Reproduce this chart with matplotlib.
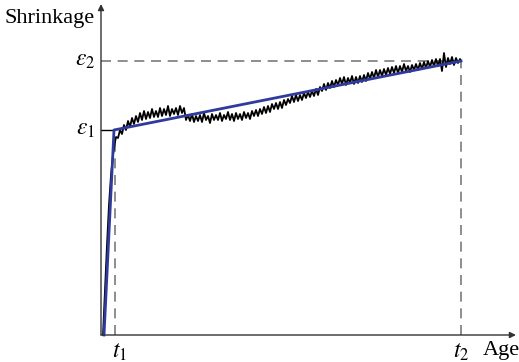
import matplotlib
matplotlib.use("Agg")
import matplotlib.pyplot as plt

plt.rcParams['font.family'] = ['Liberation Serif', 'DejaVu Serif']
plt.rcParams['mathtext.fontset'] = 'stix'

# characteristic points (age, shrinkage)
t1 = 14
t2 = 360
eps1 = 205
eps2 = 274

# bilinear fit
fit_age = [3, 13, 360]
fit_shr = [0, 205, 274]

# measured curve, early steep part
early_age = [2, 4, 6, 8, 10, 12, 14, 15]
early_shr = [0, 45, 90, 130, 160, 180, 193, 198]

meas_age = [17, 19, 21, 23, 25, 27, 29, 31, 33, 35,
            37, 39, 41, 43, 45, 47, 49, 51, 53, 55,
            57, 59, 61, 63, 65, 67, 69, 71, 73, 75,
            77, 79, 81, 83, 85, 87, 89, 91, 93, 95,
            97, 99, 101, 103, 105, 107, 109, 111, 113, 115,
            117, 119, 121, 123, 125, 127, 129, 131, 133, 135,
            137, 139, 141, 143, 145, 147, 149, 151, 153, 155,
            157, 159, 161, 163, 165, 167, 169, 171, 173, 175,
            177, 179, 181, 183, 185, 187, 189, 191, 193, 195,
            197, 199, 201, 203, 205, 207, 209, 211, 213, 215,
            217, 219, 221, 223, 225, 227, 229, 231, 233, 235,
            237, 239, 241, 243, 245, 247, 249, 251, 253, 255,
            257, 259, 261, 263, 265, 267, 269, 271, 273, 275,
            277, 279, 281, 283, 285, 287, 289, 291, 293, 295,
            297, 299, 301, 303, 305, 307, 309, 311, 313, 315,
            317, 319, 321, 323, 325, 327, 329, 331, 333, 335,
            337, 339, 341, 343, 345, 347, 349, 351, 353, 355,
            357, 359, 360]
meas_shr = [197, 205, 201, 210, 205, 214, 208, 217, 211, 219,
            213, 222, 215, 224, 216, 223, 217, 226, 218, 224,
            218, 227, 219, 226, 220, 229, 219, 226, 221, 227,
            220, 229, 222, 227, 215, 220, 214, 221, 213, 219,
            214, 220, 213, 222, 215, 219, 212, 221, 215, 220,
            215, 222, 214, 220, 216, 223, 215, 221, 214, 222,
            216, 221, 215, 223, 217, 222, 216, 224, 219, 225,
            219, 226, 221, 228, 222, 229, 223, 231, 226, 232,
            226, 233, 227, 235, 230, 236, 232, 239, 233, 240,
            234, 240, 235, 242, 237, 243, 238, 244, 239, 246,
            240, 248, 244, 251, 245, 252, 247, 254, 248, 255,
            250, 257, 251, 258, 250, 257, 252, 259, 251, 258,
            252, 259, 253, 260, 254, 262, 256, 263, 257, 265,
            258, 265, 259, 266, 260, 267, 261, 268, 262, 269,
            262, 269, 263, 271, 264, 269, 263, 270, 265, 271,
            265, 272, 266, 273, 267, 274, 268, 275, 269, 276,
            269, 276, 264, 282, 268, 277, 271, 278, 270, 277,
            272, 276, 274]

fig = plt.figure(figsize=(5.19, 3.62), dpi=100)
ax = fig.add_axes([0, 0, 1, 1])
ax.set_xlim(-101, 418)
ax.set_ylim(-27, 335)
ax.axis('off')

dash_col = '#7a7a7a'
ax.plot([0, t2], [eps2, eps2], color=dash_col, lw=1.2, dashes=(6, 4))
ax.plot([t2, t2], [0, eps2], color=dash_col, lw=1.2, dashes=(6, 4))
ax.plot([t1, t1], [0, eps1 - 8], color=dash_col, lw=1.2, dashes=(6, 4))
ax.plot([0, 13], [eps1, eps1], color='black', lw=1.0)

ax.plot(early_age + meas_age, early_shr + meas_shr, color='black', lw=1.3)
ax.plot(fit_age, fit_shr, color='#2e3a9c', lw=2.0)

# axes with arrows
ax.annotate('', xy=(0, 331), xytext=(0, 0),
            arrowprops=dict(arrowstyle='-|>', color='#333333', lw=1.0,
                            mutation_scale=9, shrinkA=0, shrinkB=0))
ax.annotate('', xy=(415, 0), xytext=(0, 0),
            arrowprops=dict(arrowstyle='-|>', color='#333333', lw=1.0,
                            mutation_scale=9, shrinkA=0, shrinkB=0))

ax.text(-96, 317, 'Shrinkage', fontsize=16, ha='left', va='center')
ax.text(382, -15, 'Age', fontsize=16, ha='left', va='center')
ax.text(-6, eps1, r'$\varepsilon_1$', fontsize=17, ha='right', va='center')
ax.text(-6, eps2, r'$\varepsilon_2$', fontsize=17, ha='right', va='center')
ax.text(t1 + 5, -17, r'$t_1$', fontsize=17, ha='center', va='center')
ax.text(t2, -17, r'$t_2$', fontsize=17, ha='center', va='center')

fig.savefig('out.png', dpi=100)
